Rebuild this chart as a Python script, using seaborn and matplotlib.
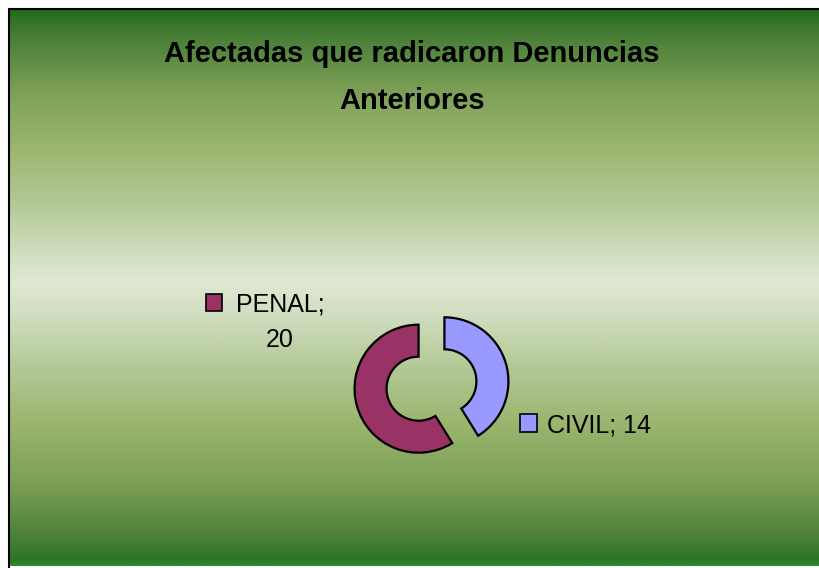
import numpy as np
import matplotlib
matplotlib.use("Agg")
import matplotlib.pyplot as plt
import seaborn as sns
from matplotlib import font_manager
from matplotlib.colors import LinearSegmentedColormap
from matplotlib.patches import Rectangle

# === datos ===
categorias = ["PENAL", "CIVIL"]
valores = [20, 14]
colores = ["#993366", "#9999FF"]
titulo = ["Afectadas que radicaron Denuncias", "Anteriores"]

sns.set_style("white")
nombres = {f.name for f in font_manager.fontManager.ttflist}
if "Liberation Sans Narrow" in nombres:
    fuente_titulo, tam_titulo = "Liberation Sans Narrow", 26
else:
    fuente_titulo, tam_titulo = "Liberation Sans", 21
plt.rcParams["font.family"] = ["Liberation Sans", "DejaVu Sans"]
plt.rcParams["text.color"] = "black"

W, H = 820, 568
fig = plt.figure(figsize=(W / 100, H / 100), dpi=100)
fig.patch.set_facecolor("white")

def fx(px):
    return px / W

def fy(py):
    return 1 - py / H

# === fondo degradado ===
x0, y0, x1, y1 = 9, 9, 820, 566
bg = fig.add_axes([fx(x0), fy(y1), fx(x1 - x0), (y1 - y0) / H])
cmap = LinearSegmentedColormap.from_list("verde", [
    (0.0, "#246b1d"), (0.05, "#4a7f38"), (0.15, "#7fa157"), (0.25, "#9bb66f"),
    (0.35, "#b4c996"), (0.44, "#d2dfc0"), (0.49, "#dfe8d2"), (0.55, "#d0dec0"),
    (0.65, "#b2c893"), (0.75, "#99b46d"), (0.85, "#7e9f56"), (0.95, "#4b8139"),
    (0.99, "#2d7426"), (1.0, "#2c8a2c"),
])
grad = np.linspace(0, 1, 512).reshape(-1, 1)
bg.imshow(grad, aspect="auto", cmap=cmap, extent=[0, 1, 0, 1], origin="upper")
bg.set_axis_off()

fig.add_artist(plt.Line2D([fx(x0), 1], [fy(y0), fy(y0)], color="black", lw=1.5))
fig.add_artist(plt.Line2D([fx(x0), fx(x0)], [fy(y0), 0], color="black", lw=1.5))

# === anillo ===
cx, cy, R = 431.5, 385, 64
lado = 4 * R
ax = fig.add_axes([fx(cx - lado / 2), fy(cy + lado / 2), lado / W, lado / H])
ax.pie(valores, colors=colores, startangle=90, radius=1, explode=[0.21, 0.21],
       wedgeprops=dict(width=0.5, edgecolor="black", linewidth=1.6))
ax.set_xlim(-2, 2)
ax.set_ylim(-2, 2)
ax.set_aspect("equal")
ax.set_axis_off()

# === titulo ===
fig.text(fx(412), fy(62.5), titulo[0], ha="center", va="baseline",
         fontsize=tam_titulo, fontweight="bold", family=fuente_titulo)
fig.text(fx(412), fy(109), titulo[1], ha="center", va="baseline",
         fontsize=tam_titulo, fontweight="bold", family=fuente_titulo)

# === etiquetas de datos ===
fig.add_artist(Rectangle((fx(206), fy(311)), 16 / W, 17 / H, transform=fig.transFigure,
                         facecolor=colores[0], edgecolor="black", lw=1.2))
fig.text(fx(280), fy(347), f"{categorias[0]};\n{valores[0]}", ha="center", va="baseline",
         fontsize=18, linespacing=1.6, multialignment="center")

fig.add_artist(Rectangle((fx(520), fy(432)), 17 / W, 18 / H, transform=fig.transFigure,
                         facecolor=colores[1], edgecolor="black", lw=1.2))
fig.text(fx(547), fy(433), f"{categorias[1]}; {valores[1]}", ha="left", va="baseline",
         fontsize=18)

fig.savefig("out.png", dpi=100, facecolor="white")
